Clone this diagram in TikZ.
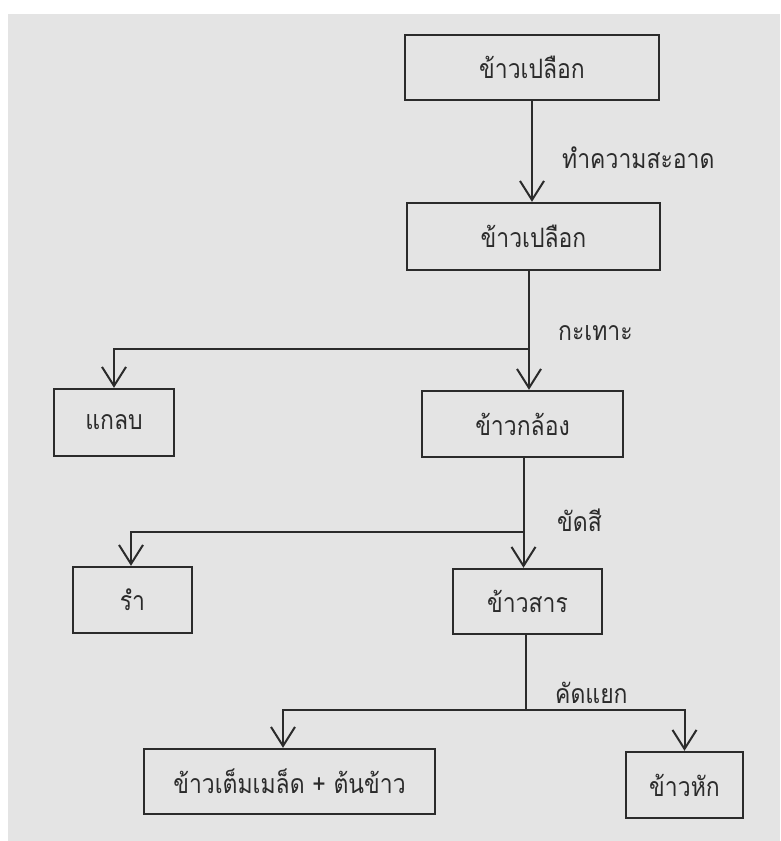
\documentclass[tikz,border=0pt]{standalone}
\usepackage{fontspec}
\newfontfamily\thaifont[Script=Thai,FakeStretch=0.86]{Loma}
\usetikzlibrary{arrows.meta}
\definecolor{paper}{HTML}{E4E4E4}
\definecolor{ink}{HTML}{2B2B2B}
\begin{document}
\begin{tikzpicture}[x=1pt,y=-1pt,
  box/.style={draw=ink, line width=2.4pt, minimum height=66pt, inner sep=0pt, text=ink,
    font=\thaifont\fontsize{26.7}{30}\selectfont},
  lab/.style={anchor=west, inner sep=0pt, text=ink, font=\thaifont\fontsize{26.7}{30}\selectfont},
  link/.style={draw=ink, line width=2pt},
  arr/.style={link, -{Straight Barb[length=19pt,width=24pt,line width=2pt]}}]
\useasboundingbox (0,0) rectangle (780,841);
\fill[white] (0,0) rectangle (780,841);
\fill[paper] (8,14) rectangle (780,841);
% nodes
\node[box, minimum width=254pt, minimum height=65pt] (b1) at (532,67.5) {ข้าวเปลือก};
\node[box, minimum width=253pt, minimum height=67pt] (b2) at (533.5,236.5) {ข้าวเปลือก};
\node[box, minimum width=120pt, minimum height=67pt] (kaelob) at (114,422.5) {แกลบ};
\node[box, minimum width=201pt] (klong) at (522.5,424) {ข้าวกล้อง};
\node[box, minimum width=119pt] (ram) at (132.5,600) {รำ};
\node[box, minimum width=149pt, minimum height=65pt] (san) at (527.5,601.5) {ข้าวสาร};
\node[box, minimum width=291pt, minimum height=65pt] (tem) at (289.5,781.5) {ข้าวเต็มเมล็ด + ต้นข้าว};
\node[box, minimum width=117pt] (hak) at (684.5,785) {ข้าวหัก};
% labels
\node[lab] (l1) at (562,158) {ทำความสะอาด};
\node[lab] (l2) at (558,333) {กะเทาะ};
\node[lab] (l3) at (557,520) {ขัดสี};
\node[lab] (l4) at (555,693) {คัดแยก};
% junctions
\coordinate (j0) at (532,150);
\coordinate (j1) at (529,349);
\coordinate (j2) at (523.5,532);
\coordinate (j3) at (526,710);
% connectors
\draw[arr] (b1.south -| j0) -- (b2.north -| j0);
\draw[link] (b2.south -| j1) -- (j1);
\draw[arr] (j1) -- (klong.north -| j1);
\draw[arr] (j1) -| (kaelob.north);
\draw[link] (klong.south -| j2) -- (j2);
\draw[arr] (j2) -- (san.north -| j2);
\draw[arr] (j2) -| ([xshift=-1.5pt]ram.north);
\draw[link] (san.south -| j3) -- (j3);
\draw[arr] (j3) -| ([xshift=-6.5pt]tem.north);
\draw[arr] (j3) -| (hak.north);
\end{tikzpicture}
\end{document}
